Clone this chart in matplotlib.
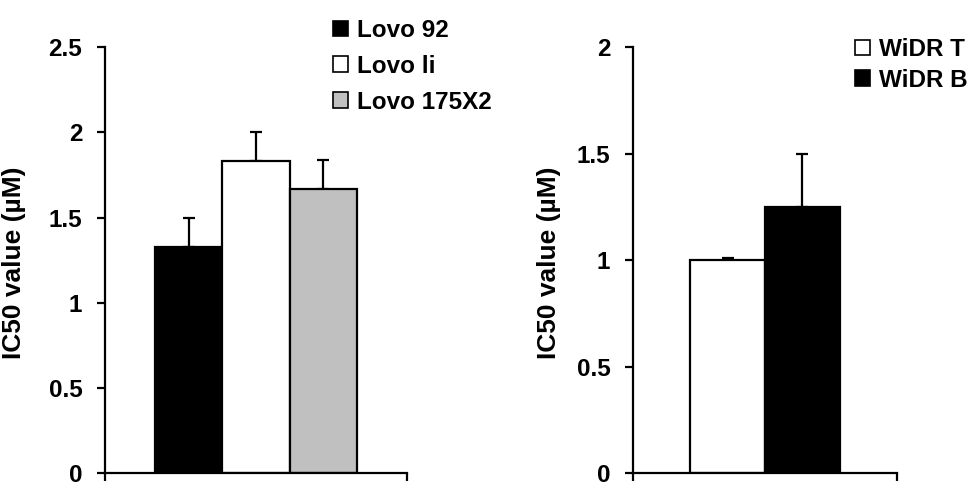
import matplotlib
matplotlib.use("Agg")
import matplotlib.pyplot as plt
from matplotlib.patches import Patch

plt.rcParams["font.family"] = ["Liberation Sans", "DejaVu Sans"]
plt.rcParams["font.weight"] = "bold"

# Left panel: Lovo lines
lovo_names = ["Lovo 92", "Lovo li", "Lovo 175X2"]
lovo_ic50 = [1.33, 1.83, 1.67]
lovo_err = [0.17, 0.17, 0.17]
lovo_colors = ["black", "white", "#c0c0c0"]

# Right panel: WiDR lines
widr_names = ["WiDR T", "WiDR B"]
widr_ic50 = [1.0, 1.25]
widr_err = [0.01, 0.25]
widr_colors = ["white", "black"]

W, H = 972, 482
fig = plt.figure(figsize=(W / 100, H / 100), dpi=100)

ax1 = fig.add_axes([105 / W, 9 / H, 302 / W, (473 - 47.3) / H])
ax2 = fig.add_axes([633 / W, 9 / H, 264 / W, (473 - 47.3) / H])

LW = 1.6


def draw_panel(ax, names, vals, errs, colors, width, ymax, yticks):
    n = len(vals)
    centers = [0.5 + (i - (n - 1) / 2) * width for i in range(n)]
    for c, v, e, col, name in zip(centers, vals, errs, colors, names):
        ax.bar(c, v, width=width, color=col, edgecolor="black", linewidth=LW,
               label=name, zorder=2)
        ax.errorbar(c, v, yerr=[[0], [e]], fmt="none", ecolor="black",
                    elinewidth=LW, capsize=4, capthick=LW, zorder=1)
    ax.set_xlim(0, 1)
    ax.set_ylim(0, ymax)
    ax.set_yticks(yticks)
    ax.set_yticklabels([f"{t:g}" for t in yticks], fontsize=17.5, fontweight="bold")
    ax.set_xticks([0, 1])
    ax.set_xticklabels([])
    ax.tick_params(direction="out", length=5.8, width=LW, pad=10.5)
    for s in ["top", "right"]:
        ax.spines[s].set_visible(False)
    for s in ["left", "bottom"]:
        ax.spines[s].set_linewidth(LW)
    ax.set_ylabel("IC50 value (µM)", fontsize=19, fontweight="bold")


draw_panel(ax1, lovo_names, lovo_ic50, lovo_err, lovo_colors, 0.222, 2.5,
           [0, 0.5, 1, 1.5, 2, 2.5])
draw_panel(ax2, widr_names, widr_ic50, widr_err, widr_colors, 0.284, 2,
           [0, 0.5, 1, 1.5, 2])
ax1.yaxis.set_label_coords(26 / W, 1 - 263 / H, transform=fig.transFigure)
ax2.yaxis.set_label_coords(561 / W, 1 - 263 / H, transform=fig.transFigure)


def add_legend(ax, names, colors, x, y, spacing, size):
    handles = [Patch(facecolor=c, edgecolor="black", linewidth=1.2) for c in colors]
    ax.legend(handles, names, loc="upper left", bbox_to_anchor=(x / W, 1 - y / H),
              bbox_transform=fig.transFigure, frameon=False,
              handlelength=0.62, handleheight=0.62, handletextpad=0.35,
              labelspacing=spacing, borderpad=0, borderaxespad=0,
              prop={"weight": "bold", "size": size})


add_legend(ax1, lovo_names, lovo_colors, 333, 19, 0.53, 17.5)
add_legend(ax2, widr_names, widr_colors, 855, 38, 0.32, 17.5)

fig.savefig("out.png", dpi=100)
